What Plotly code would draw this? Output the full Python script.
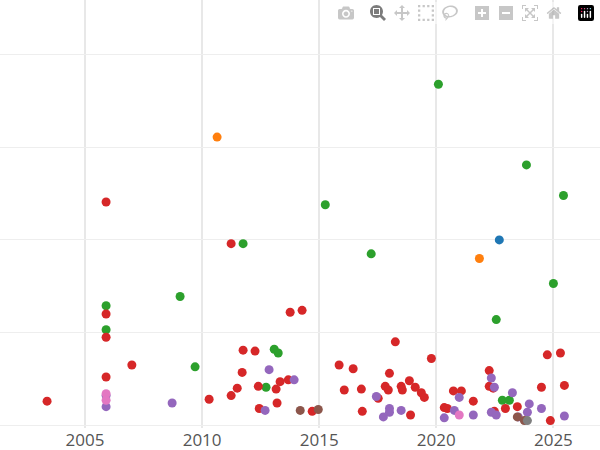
import plotly.graph_objects as go

green_x=[2020.09,2023.85,2025.43,2015.26,2011.75,2017.22,2025.0,2005.9,2009.06,2005.9,2022.56,2013.08,2013.25,2009.7,2012.73,2022.82,2023.12]
green_y=[3.68,2.81,2.48,2.38,1.96,1.85,1.53,1.29,1.39,1.03,1.14,0.82,0.78,0.63,0.41,0.27,0.27]
orange_x=[2010.64,2021.84]; orange_y=[3.11,1.80]
blue_x=[2022.69]; blue_y=[2.0]
red_x=[2005.9,2011.24,2005.9,2013.76,2014.27,2005.9,2018.25,2007.0,2011.75,2012.26,2019.79,2015.85,2016.45,2025.3,2024.74,2022.26,2005.9,2011.71,2018.0,2003.38,2010.3,2011.24,2011.5,2012.4,2013.16,2013.33,2013.68,2013.2,2012.44,2014.7,2016.07,2016.8,2016.84,2017.82,2017.95,2018.5,2018.55,2018.85,2019.1,2019.36,2019.49,2017.52,2018.9,2020.34,2020.47,2020.73,2021.07,2021.58,2022.26,2022.43,2022.95,2023.46,2024.49,2025.47,2024.87,2022.48]
red_y=[2.41,1.96,1.20,1.22,1.24,0.95,0.90,0.65,0.81,0.80,0.72,0.65,0.61,0.78,0.76,0.59,0.52,0.57,0.56,0.26,0.28,0.32,0.40,0.42,0.39,0.47,0.49,0.24,0.18,0.15,0.38,0.39,0.15,0.42,0.38,0.42,0.38,0.48,0.41,0.35,0.30,0.29,0.11,0.19,0.18,0.37,0.37,0.26,0.42,0.40,0.18,0.20,0.41,0.43,0.05,0.15]
purple_x=[2005.9,2005.9,2008.72,2012.86,2013.93,2012.69,2017.44,2018.0,2018.0,2017.74,2018.5,2020.34,2020.77,2020.98,2021.58,2022.35,2022.48,2022.35,2022.56,2023.25,2023.97,2023.89,2024.49,2025.47,2023.5]
purple_y=[0.20,0.32,0.24,0.60,0.49,0.16,0.31,0.18,0.14,0.09,0.16,0.08,0.16,0.30,0.11,0.51,0.41,0.14,0.11,0.35,0.23,0.14,0.18,0.10,0.09]
brown_x=[2014.19,2014.96,2023.46,2023.76]; brown_y=[0.16,0.17,0.09,0.05]
pink_x=[2005.9,2005.9,2020.98]; pink_y=[0.34,0.27,0.11]
gray_x=[2023.89]; gray_y=[0.05]

series=[(green_x,green_y,'#2ca02c'),(orange_x,orange_y,'#ff7f0e'),(blue_x,blue_y,'#1f77b4'),
        (red_x,red_y,'#d62728'),(purple_x,purple_y,'#9467bd'),(brown_x,brown_y,'#8c564b'),
        (pink_x,pink_y,'#e377c2'),(gray_x,gray_y,'#7f7f7f')]
fig=go.Figure()
for x,y,c in series:
    fig.add_trace(go.Scatter(x=x,y=y,mode='markers',marker=dict(color=c,size=9)))
fig.update_layout(width=600,height=450,showlegend=False,
    paper_bgcolor='white',plot_bgcolor='white',
    margin=dict(l=0,r=0,t=0,b=22,pad=0),
    xaxis=dict(range=[2001.37,2026.99],tickvals=[2005,2010,2015,2020,2025],tickfont=dict(size=17,color='#555'),
               zeroline=False,showgrid=True,gridcolor='#e8e8e8',gridwidth=2,showline=False,ticks=''),
    yaxis=dict(range=[-0.03,4.59],tickvals=[0,1,2,3,4],showticklabels=False,zeroline=False,
               showgrid=True,gridcolor='#eeeeee',showline=False))
fig.write_html("out.html")
with open("out.html") as f:
    h=f.read()
h=h.replace("<body>",'<body style="margin:0">',1)
with open("out.html","w") as f:
    f.write(h)
